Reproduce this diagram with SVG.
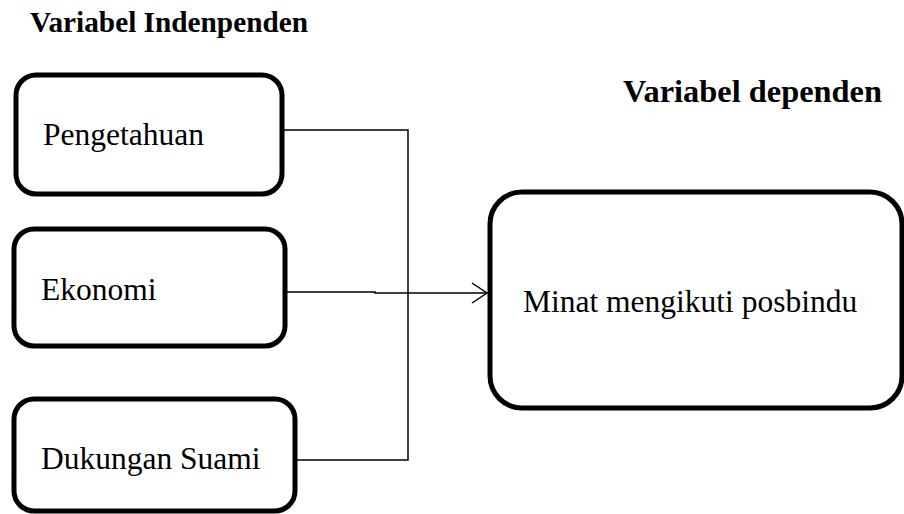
<svg xmlns="http://www.w3.org/2000/svg" width="904" height="514" viewBox="0 0 904 514">
<style>
.box{fill:#fff;stroke:#000;stroke-width:5}
.lbl{font-family:"Liberation Serif","Times New Roman",serif;font-size:31.5px;fill:#000}
.ttl{font-family:"Liberation Serif","Times New Roman",serif;font-size:29px;font-weight:bold;fill:#000}
.con{fill:none;stroke:#000;stroke-width:1.5}
</style>
<rect width="904" height="514" fill="#fff"/>
<text class="ttl" x="30" y="32" textLength="278" lengthAdjust="spacingAndGlyphs">Variabel Indenpenden</text>
<text class="ttl" x="623" y="102" style="font-size:31px" textLength="259" lengthAdjust="spacingAndGlyphs">Variabel dependen</text>
<g id="connectors">
<polyline class="con" points="284,130 408,130 408,460 297,460"/>
<polyline class="con" points="287,292 375,292 375,293 487,293"/>
<polyline class="con" points="472,283 487,293 472,303"/>
</g>
<g id="pengetahuan">
<rect class="box" x="16" y="75" width="266" height="119" rx="20"/>
<text class="lbl" x="43" y="145">Pengetahuan</text>
</g>
<g id="ekonomi">
<rect class="box" x="14" y="229" width="271" height="117" rx="20"/>
<text class="lbl" x="41" y="300">Ekonomi</text>
</g>
<g id="dukungan">
<rect class="box" x="14" y="399" width="281" height="112" rx="20"/>
<text class="lbl" x="41" y="469">Dukungan Suami</text>
</g>
<g id="minat">
<rect class="box" x="490" y="192" width="412" height="216" rx="32"/>
<text class="lbl" x="523" y="312">Minat mengikuti posbindu</text>
</g>
</svg>
